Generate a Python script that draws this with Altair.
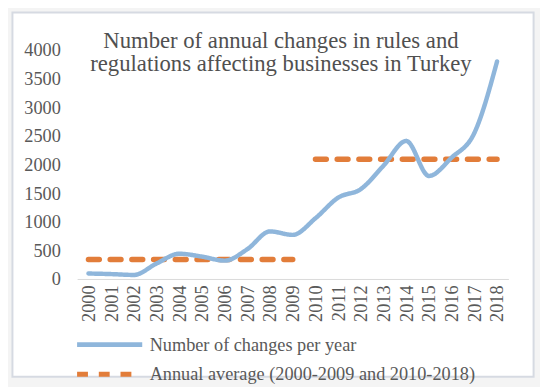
import altair as alt
import pandas as pd

years = [str(y) for y in range(2000, 2019)]
changes = [95, 85, 70, 270, 440, 390, 320, 520, 830, 770, 1060, 1420, 1570, 1980, 2410, 1800, 2120, 2550, 3800]
avg_years = ["2000", "2009", "2010", "2018"]
avg_values = [340, 340, 2090, 2090]
avg_segments = ["2000-2009", "2000-2009", "2010-2018", "2010-2018"]

s1 = "Number of changes per year"
s2 = "Annual average (2000-2009 and 2010-2018)"
title_lines = ["Number of annual changes in rules and",
               "regulations affecting businesses in Turkey"]

main_df = pd.DataFrame({"year": years, "value": changes, "series": s1})
avg_df = pd.DataFrame({"year": avg_years, "value": avg_values, "series": s2, "seg": avg_segments})
frame_df = pd.DataFrame({"k": [0]})

FONT = "Liberation Serif"
BLUE = "#8fb6db"
ORANGE = "#e27d3a"

xenc = alt.X("year:O", scale=alt.Scale(domain=years, type="point", padding=0.5),
             axis=alt.Axis(title=None, labelAngle=-90, ticks=False, domainColor="#d9d9d9",
                           labelPadding=6, labelFontSize=18.5, labelFont=FONT, labelColor="#595959",
                           labelBaseline="middle", labelAlign="right", zindex=1))
yenc = alt.Y("value:Q", scale=alt.Scale(domain=[0, 4000], nice=False),
             axis=alt.Axis(title=None, values=list(range(0, 4001, 500)), grid=False, domain=False,
                           ticks=False, labelPadding=17, labelFontSize=18.5, labelFont=FONT,
                           labelColor="#595959", format="d", zindex=1))
color = alt.Color("series:N", scale=alt.Scale(domain=[s1, s2], range=[BLUE, ORANGE]),
                  legend=alt.Legend(title=None, orient="none", legendX=19.5, legendY=285,
                                    symbolType="M-3,0H3", symbolSize=484, symbolStrokeWidth=5,
                                    labelFont=FONT, labelFontSize=18.5, labelColor="#595959",
                                    labelOffset=27, labelLimit=0, rowPadding=6, padding=0,
                                    zindex=1))
dash = alt.StrokeDash("series:N", scale=alt.Scale(domain=[s1, s2], range=[[1, 0], [11, 11]]),
                      legend=None)

frame = alt.Chart(frame_df).mark_rect(fill="white", stroke="#d6dae2", strokeWidth=2).encode(
    x=alt.value(-65.5), x2=alt.value(462.5), y=alt.value(-38), y2=alt.value(331))

main = alt.Chart(main_df).mark_line(interpolate="monotone", strokeWidth=4.5, strokeCap="round").encode(
    x=xenc, y=yenc, color=color, strokeDash=dash)

avg = alt.Chart(avg_df).mark_line(strokeWidth=5.5, strokeCap="round").encode(
    x=xenc, y=yenc, color=color, strokeDash=dash, detail="seg:N")

chart = alt.layer(frame, avg, main).properties(
    width=437, height=232,
    padding={"left": 3, "top": 1, "right": 5, "bottom": 5},
    background="#f4f4f4",
    title=alt.TitleParams(text=title_lines, anchor="middle", dx=-12, offset=-83,
                          baseline="alphabetic", fontSize=23, lineHeight=23, font=FONT,
                          fontWeight="normal", color="#505050", zindex=1),
).configure_view(stroke=None)

chart.save("out.html", embed_options={"renderer": "svg", "actions": False})
